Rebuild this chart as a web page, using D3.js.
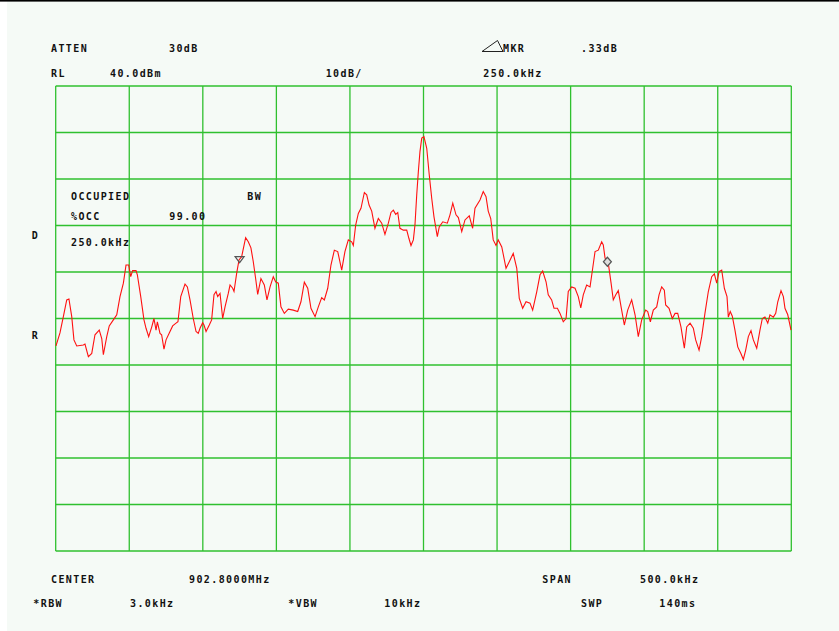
<!DOCTYPE html>
<html>
<head>
<meta charset="utf-8">
<script src="https://cdn.jsdelivr.net/npm/d3@7"></script>
<style>
  body { margin: 0; background: #fff; }
  svg { display: block; }
  .lbl { font-family: "DejaVu Sans Mono", monospace; font-weight: bold; font-size: 10px; letter-spacing: 1.4px; fill: #111; }
</style>
</head>
<body>
<svg id="chart" width="839" height="631"></svg>
<script>
// SPECTRUM TRACE DATA (offset from center in kHz, level in dBm)

const freqKHz = [
  -249.8, -247.1, -244.8, -242.5, -241.0, -239.1, -237.6, -235.7, -231.2, -230.1,
  -227.8, -225.5, -223.3, -220.4, -218.7, -217.6, -215.3, -213.6, -210.8, -208.5,
  -206.3, -204.0, -202.2, -200.4, -199.0, -197.7, -195.4, -194.5, -192.2, -190.0,
  -188.6, -186.8, -184.7, -183.2, -181.8, -180.9, -179.1, -178.0, -176.4, -175.0,
  -172.8, -170.5, -168.2, -166.9, -165.0, -162.1, -160.5, -158.7, -156.5, -154.6,
  -153.1, -151.9, -150.1, -149.2, -147.8, -145.6, -144.0, -142.4, -141.0, -139.9,
  -138.3, -136.5, -134.9, -132.7, -131.5, -129.7, -128.8, -127.0, -125.4, -123.6,
  -120.9, -119.1, -117.3, -115.7, -114.1, -112.7, -110.5, -108.2, -106.4, -104.3,
  -102.1, -100.5, -98.7, -96.9, -94.6, -91.9, -88.5, -85.5, -83.3, -81.0,
  -78.7, -76.5, -73.7, -71.5, -69.2, -67.4, -65.1, -62.9, -60.6, -58.3,
  -55.6, -53.4, -51.1, -48.8, -47.7, -46.1, -44.3, -42.5, -40.2, -38.6,
  -37.0, -35.2, -33.0, -30.7, -28.4, -26.2, -23.9, -22.1, -20.5, -18.9,
  -17.5, -16.0, -13.7, -11.4, -9.9, -8.5, -6.9, -5.8, -4.6, -3.5,
  -2.4, -1.2, 0.3, 2.2, 3.9, 5.6, 7.1, 9.4, 10.7, 13.1,
  16.2, 18.0, 19.9, 22.1, 23.7, 26.0, 28.2, 31.1, 33.4, 35.0,
  38.4, 40.6, 42.5, 44.0, 45.7, 47.4, 49.3, 50.8, 53.2, 56.1,
  58.3, 61.0, 63.4, 65.1, 67.4, 69.7, 72.4, 74.2, 77.0, 79.2,
  81.0, 83.3, 84.8, 87.1, 88.7, 91.0, 92.8, 95.0, 96.9, 98.4,
  100.7, 103.0, 105.2, 106.9, 108.6, 110.9, 113.2, 115.0, 116.6, 118.8,
  121.1, 122.2, 123.4, 125.6, 127.5, 129.0, 130.7, 132.4, 134.3, 136.5,
  138.8, 141.5, 143.8, 146.0, 148.3, 151.0, 152.4, 154.2, 156.2, 158.5,
  160.1, 161.9, 163.7, 164.6, 166.9, 169.1, 171.0, 172.8, 175.0, 177.3,
  178.9, 181.2, 183.4, 185.0, 187.3, 189.1, 191.3, 193.6, 195.9, 197.7,
  199.3, 200.9, 202.7, 204.5, 206.3, 207.2, 208.5, 209.9, 211.7, 213.6,
  215.8, 217.4, 219.0, 220.8, 222.6, 224.2, 226.5, 228.7, 230.3, 232.1,
  234.0, 235.5, 237.8, 239.4, 240.8, 243.0, 244.6, 245.7, 247.6, 249.8
];

const levelDBm = [
  -15.9, -13.1, -9.6, -6.0, -5.8, -9.6, -14.6, -15.9, -15.7, -15.5,
  -18.2, -17.5, -13.5, -12.5, -14.3, -17.8, -13.9, -11.6, -10.3, -9.2,
  -5.3, -2.4, 1.5, 1.5, -1.0, 0.3, 0.3, -0.6, -5.3, -10.3,
  -12.1, -13.9, -11.8, -10.0, -12.5, -10.7, -13.2, -13.5, -16.6, -14.6,
  -13.1, -11.6, -11.0, -10.7, -5.3, -2.6, -3.2, -6.0, -10.0, -12.8,
  -13.2, -12.1, -10.9, -11.4, -12.8, -11.4, -10.3, -4.9, -4.2, -5.3,
  -4.6, -10.0, -7.5, -4.6, -2.8, -3.5, -4.2, -0.3, 2.6, 3.3,
  7.4, 6.5, 5.2, 2.2, -1.4, -4.8, -1.4, -2.8, -6.0, -3.2,
  -1.0, -2.1, -2.4, -7.5, -8.9, -8.0, -8.2, -8.5, -6.4, -2.2,
  -3.5, -7.8, -9.6, -7.5, -5.5, -6.0, -3.5, 1.5, 4.7, 4.4,
  0.4, 4.4, 6.9, 6.5, 5.7, 10.1, 12.6, 13.7, 17.1, 16.6,
  14.4, 13.1, 9.4, 11.5, 10.5, 8.1, 10.5, 12.8, 13.3, 12.4,
  12.8, 9.4, 9.0, 9.0, 7.2, 5.7, 6.9, 10.1, 16.6, 21.6,
  25.9, 28.8, 29.1, 26.6, 20.9, 15.8, 11.9, 7.6, 9.7, 10.8,
  10.5, 12.3, 14.8, 12.3, 11.7, 8.7, 11.2, 12.1, 9.4, 13.7,
  15.5, 17.3, 16.2, 13.1, 11.5, 6.9, 5.7, 6.9, 5.4, 0.8,
  2.2, 4.0, 0.8, -5.7, -7.8, -6.4, -6.7, -8.2, -4.2, -0.6,
  0.2, -2.1, -4.9, -6.0, -7.8, -7.8, -8.9, -10.7, -10.0, -4.2,
  -3.2, -3.5, -5.3, -7.7, -4.9, -2.8, -3.2, 0.8, 4.4, 4.7,
  6.5, 5.8, 3.0, 1.9, -2.4, -6.0, -4.9, -4.0, -7.5, -11.4,
  -8.2, -6.0, -9.2, -13.9, -10.3, -8.2, -8.5, -10.7, -8.2, -7.5,
  -4.9, -3.2, -3.9, -7.1, -7.8, -10.0, -8.9, -8.9, -11.8, -16.4,
  -11.8, -11.0, -12.1, -14.6, -16.8, -13.9, -8.9, -4.2, -1.0, -0.4,
  -2.4, 0.1, 0.4, -3.5, -5.3, -9.7, -8.5, -9.5, -12.5, -16.1,
  -17.6, -18.8, -16.8, -13.9, -12.6, -14.6, -16.4, -12.5, -10.0, -9.7,
  -11.0, -9.2, -9.7, -8.9, -6.4, -4.0, -5.3, -7.8, -9.2, -12.5
];

// occupied bandwidth markers (kHz offsets)
const markerFreqs = [-125, 125];

// grid ticks: span 500 kHz, 10 dB/div from RL 40 dBm
const freqTicks = d3.range(-250, 251, 50);
const levelTicks = d3.range(-60, 41, 10);

// annotation texts of the analyzer screen
const labels = [
  ["ATTEN", 51, 51.7], ["30dB", 169, 51.7], ["MKR", 503, 51.7], [".33dB", 581, 51.7],
  ["RL", 51, 77.3], ["40.0dBm", 110, 77.3], ["10dB/", 325.7, 77.3], ["250.0kHz", 483.3, 77.3],
  ["OCCUPIED", 71, 199.5], ["BW", 247.3, 199.5],
  ["%OCC", 71, 219.5], ["99.00", 169.3, 219.5],
  ["D", 31.7, 238.5], ["250.0kHz", 71, 246], ["R", 31.7, 338.5],
  ["CENTER", 51, 583.3], ["902.8000MHz", 189, 583.3], ["SPAN", 542.3, 583.3], ["500.0kHz", 640, 583.3],
  ["*RBW", 33.3, 606.7], ["3.0kHz", 130, 606.7], ["*VBW", 288.3, 606.7], ["10kHz", 384.3, 606.7],
  ["SWP", 581, 606.7], ["140ms", 659.3, 606.7]
];

const svg = d3.select("#chart");

// screen background with the black top edge
svg.append("rect").attr("x", 7).attr("y", 0).attr("width", 832).attr("height", 631).attr("fill", "#f5faf6");
svg.append("rect").attr("x", 0).attr("y", 0).attr("width", 839).attr("height", 1.6).attr("fill", "#000");

// scales for the graticule
const x = d3.scaleLinear().domain([-250, 250]).range([55.7, 791.3]);
const y = d3.scaleLinear().domain([-60, 40]).range([551, 86]);

const grid = svg.append("g").attr("stroke", "#2fc02f").attr("stroke-width", 1.3);

grid.selectAll("line.v")
  .data(freqTicks)
  .enter()
  .append("line")
  .attr("class", "v")
  .attr("x1", d => x(d)).attr("x2", d => x(d))
  .attr("y1", y(40)).attr("y2", y(-60));

grid.selectAll("line.h")
  .data(levelTicks)
  .enter()
  .append("line")
  .attr("class", "h")
  .attr("y1", d => y(d)).attr("y2", d => y(d))
  .attr("x1", x(-250)).attr("x2", x(250));

// the red trace
const points = freqKHz.map((f, i) => [f, levelDBm[i]]);
const line = d3.line().x(d => x(d[0])).y(d => y(d[1]));

svg.append("path")
  .datum(points)
  .attr("fill", "none")
  .attr("stroke", "#ff1010")
  .attr("stroke-width", 1.1)
  .attr("d", line);

// level at a marker frequency
const levelAt = f => {
  const i = d3.bisector(d => d[0]).left(points, f);
  const a = points[i - 1], b = points[i];
  return a[1] + (b[1] - a[1]) * (f - a[0]) / (b[0] - a[0]);
};

// left marker: open down triangle, right marker: diamond
const mx0 = x(markerFreqs[0]), my0 = y(levelAt(markerFreqs[0]));
svg.append("path")
  .attr("d", `M${mx0 - 4.5},${my0 - 2.5} L${mx0 + 4.5},${my0 - 2.5} L${mx0},${my0 + 3.5} Z`)
  .attr("fill", "none").attr("stroke", "#555").attr("stroke-width", 1.2);

const mx1 = x(markerFreqs[1]), my1 = y(levelAt(markerFreqs[1]));
svg.append("path")
  .attr("d", `M${mx1},${my1 - 4.5} L${mx1 + 4},${my1} L${mx1},${my1 + 4.5} L${mx1 - 4},${my1} Z`)
  .attr("fill", "#ddd").attr("stroke", "#555").attr("stroke-width", 1.2);

// delta symbol in front of MKR
svg.append("path")
  .attr("d", "M482,51.5 L497.5,40.5 L503,51.5 Z")
  .attr("fill", "none").attr("stroke", "#222").attr("stroke-width", 1);

svg.selectAll("text.lbl")
  .data(labels)
  .enter()
  .append("text")
  .attr("class", "lbl")
  .attr("x", d => d[1])
  .attr("y", d => d[2])
  .text(d => d[0]);
</script>
</body>
</html>
